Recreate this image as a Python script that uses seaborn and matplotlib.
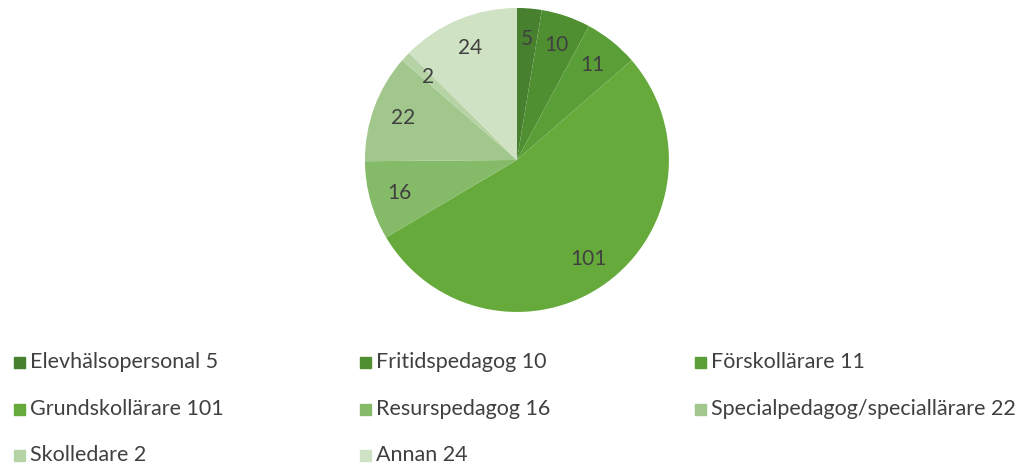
import matplotlib
matplotlib.use("Agg")
import matplotlib.pyplot as plt
import matplotlib.patches as mpatches
import seaborn as sns

# Data
categories = ["Elevhälsopersonal", "Fritidspedagog", "Förskollärare", "Grundskollärare",
              "Resurspedagog", "Specialpedagog/speciallärare", "Skolledare", "Annan"]
values = [5, 10, 11, 101, 16, 22, 2, 24]
colors = ["#47802f", "#4f8f31", "#5a9e37", "#67aa3c", "#85bb68", "#a2c78c", "#b5d3a4", "#cfe2c4"]

sns.set_theme(style="white")
plt.rcParams['font.family'] = ['Lato', 'DejaVu Sans']
text_color = "#404040"

fig = plt.figure(figsize=(10.35, 4.65), dpi=100)
ax = fig.add_axes([0.3526, 0.3291, 0.2937, 0.6538])

wedges, texts = ax.pie(values, colors=colors, startangle=90, counterclock=False,
                       labels=[str(v) for v in values], labeldistance=0.8,
                       wedgeprops=dict(linewidth=0),
                       textprops=dict(color=text_color, fontsize=15, ha="center", va="center"))
ax.set_xlim(-1, 1)
ax.set_ylim(-1, 1)
ax.set_aspect("equal")

# Legend laid out in three columns
col_x = [14 / 1035, 360 / 1035, 695 / 1035]
row_y = [362, 409, 455]
for i, (cat, val, col) in enumerate(zip(categories, values, colors)):
    r, c = divmod(i, 3)
    x = col_x[c]
    y = 1 - row_y[r] / 465
    fig.patches.append(mpatches.Rectangle((x, y - 5.5 / 465), 11 / 1035, 11 / 465,
                                          transform=fig.transFigure, color=col))
    fig.text(x + 16 / 1035, y, f"{cat} {val}", color=text_color, fontsize=15.5,
             ha="left", va="center")

plt.savefig("out.png", dpi=100)
